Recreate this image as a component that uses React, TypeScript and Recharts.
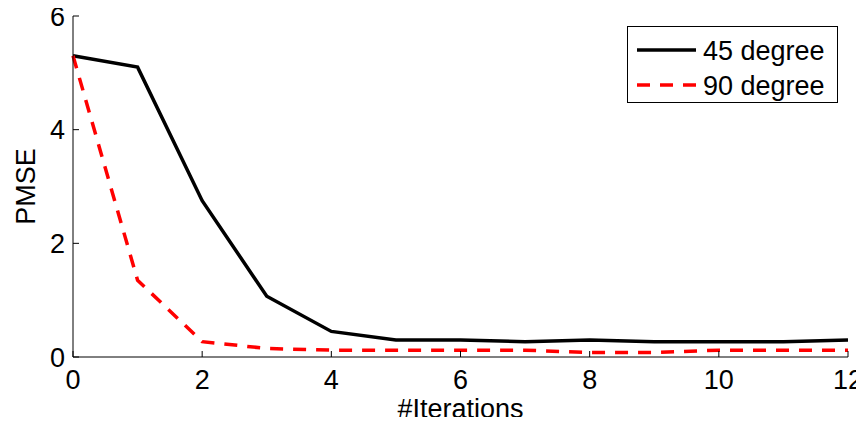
import { Line, LineChart, XAxis, YAxis } from 'recharts'

const iterations = [0, 1, 2, 3, 4, 5, 6, 7, 8, 9, 10, 11, 12]
const pmse45 = [5.3, 5.1, 2.75, 1.07, 0.45, 0.3, 0.3, 0.27, 0.3, 0.27, 0.27, 0.27, 0.3]
const pmse90 = [5.3, 1.35, 0.27, 0.15, 0.12, 0.12, 0.12, 0.12, 0.08, 0.08, 0.12, 0.12, 0.12]
const xTicks = [0, 2, 4, 6, 8, 10, 12]
const yTicks = [0, 2, 4, 6]

const data = iterations.map((it, i) => ({ it, a: pmse45[i], b: pmse90[i] }))

const font = 'Liberation Sans, Arial, sans-serif'
const fs = 27

const BottomTick = ({ x, y, payload }: any) => (
  <g>
    <line x1={x} y1={y} x2={x} y2={y - 6} stroke="#000" />
    <text x={x} y={y + 32} textAnchor="middle" fontSize={fs} fontFamily={font} fill="#000">
      {payload.value}
    </text>
  </g>
)

const TopTick = ({ x, y }: any) => <line x1={x} y1={y} x2={x} y2={y + 6} stroke="#000" />

const LeftTick = ({ x, y, payload }: any) => (
  <g>
    <line x1={x} y1={y} x2={x + 6} y2={y} stroke="#000" />
    <text x={x - 8} y={y} dy="0.36em" textAnchor="end" fontSize={fs} fontFamily={font} fill="#000">
      {payload.value}
    </text>
  </g>
)

const RightTick = ({ x, y }: any) => <line x1={x} y1={y} x2={x - 6} y2={y} stroke="#000" />

// legend drawn as an overlay, recharts' Legend would eat plot height
const LegendBox = () => (
  <div
    style={{
      position: 'absolute',
      left: 627,
      top: 26,
      width: 211,
      height: 77,
      boxSizing: 'border-box',
      border: '1px solid #000',
      background: '#fff',
    }}
  >
    <svg width={209} height={75} style={{ position: 'absolute', left: 0, top: 0 }}>
      <line x1={9} y1={23} x2={68} y2={23} stroke="#000" strokeWidth={3.5} />
      <line x1={9} y1={58} x2={68} y2={58} stroke="#ff0000" strokeWidth={3.5} strokeDasharray="13 10" />
      <text x={75} y={23} dy="0.36em" fontSize={fs} fontFamily={font}>45 degree</text>
      <text x={75} y={58} dy="0.36em" fontSize={fs} fontFamily={font}>90 degree</text>
    </svg>
  </div>
)

export default function App() {
  return (
    <div style={{ margin: -8, background: '#fff', width: 864, height: 425, position: 'relative' }}>
      <LineChart width={864} height={425} data={data} margin={{ top: 16, right: 16, bottom: 0, left: 0 }}>
        <XAxis
          xAxisId="b"
          dataKey="it"
          type="number"
          domain={[0, 12]}
          ticks={xTicks}
          height={68}
          tickSize={0}
          tickMargin={0}
          tickLine={false}
          tick={<BottomTick />}
          axisLine={{ stroke: '#000' }}
          label={{
            content: ({ viewBox }: any) => (
              <text x={viewBox.x + viewBox.width / 2} y={418} textAnchor="middle" fontSize={fs} fontFamily={font}>
                #Iterations
              </text>
            ),
          }}
        />
        <XAxis
          xAxisId="t"
          orientation="top"
          dataKey="it"
          type="number"
          domain={[0, 12]}
          ticks={xTicks}
          height={0}
          tickSize={0}
          tickMargin={0}
          tickLine={false}
          tick={<TopTick />}
          axisLine={{ stroke: '#000' }}
        />
        <YAxis
          yAxisId="l"
          type="number"
          domain={[0, 6]}
          ticks={yTicks}
          width={73}
          tickSize={0}
          tickMargin={0}
          tickLine={false}
          tick={<LeftTick />}
          axisLine={{ stroke: '#000' }}
          label={{
            content: ({ viewBox }: any) => {
              const cy = viewBox.y + viewBox.height / 2
              return (
                <text x={35} y={cy} transform={`rotate(-90 35 ${cy})`} textAnchor="middle" fontSize={fs} fontFamily={font}>
                  PMSE
                </text>
              )
            },
          }}
        />
        <YAxis
          yAxisId="r"
          orientation="right"
          type="number"
          domain={[0, 6]}
          ticks={yTicks}
          width={0}
          tickSize={0}
          tickMargin={0}
          tickLine={false}
          tick={<RightTick />}
          axisLine={{ stroke: '#000' }}
        />
        <Line
          xAxisId="b"
          yAxisId="l"
          dataKey="a"
          name="45 degree"
          stroke="#000"
          strokeWidth={3.5}
          dot={false}
          isAnimationActive={false}
          type="linear"
        />
        <Line
          xAxisId="b"
          yAxisId="l"
          dataKey="b"
          name="90 degree"
          stroke="#ff0000"
          strokeWidth={3.5}
          strokeDasharray="13 10"
          dot={false}
          isAnimationActive={false}
          type="linear"
        />
      </LineChart>
      <LegendBox />
    </div>
  )
}
